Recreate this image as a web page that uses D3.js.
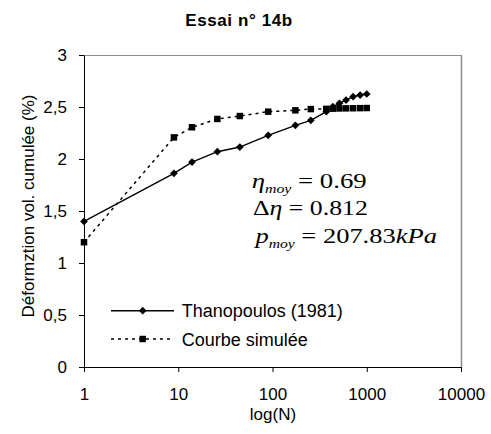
<!DOCTYPE html>
<html><head><meta charset="utf-8">
<script src="https://cdn.jsdelivr.net/npm/d3@7"></script>
<style>body{margin:0;background:#fff}svg{display:block}</style>
</head><body>
<svg id="c" width="491" height="434"></svg>
<script>
const title = "Essai n° 14b";
const yLabel = "Déformztion vol. cumulée (%)";
const xLabel = "log(N)";
const seriesNames = ["Thanopoulos (1981)", "Courbe simulée"];
const cycles = [1, 9, 14, 26, 45, 90, 175, 255, 372, 437, 513, 603, 716, 851, 1000];
const thanopoulos = [1.40, 1.862, 1.97, 2.07, 2.115, 2.228, 2.324, 2.372, 2.455, 2.503, 2.535, 2.567, 2.599, 2.615, 2.625];
const simulee = [1.20, 2.208, 2.305, 2.385, 2.413, 2.455, 2.468, 2.48, 2.482, 2.484, 2.486, 2.487, 2.488, 2.489, 2.49];
const xTicks = [1, 10, 100, 1000, 10000];
const yTicks = [0, 0.5, 1, 1.5, 2, 2.5, 3];

const svg = d3.select("#c");
const L = 84, R = 461, T = 55, B = 367;
const x = d3.scaleLog().domain([1, 10000]).range([L, R]);
const y = d3.scaleLinear().domain([0, 3]).range([B, T]);
const sans = "'Liberation Sans', Arial, sans-serif";
const serif = "'Liberation Serif', 'Times New Roman', serif";

// frame top/right
svg.append("line").attr("x1", L).attr("x2", R).attr("y1", T + 0.5).attr("y2", T + 0.5).attr("stroke", "#8c8c8c");
svg.append("line").attr("x1", R + 0.5).attr("x2", R + 0.5).attr("y1", T).attr("y2", B).attr("stroke", "#8c8c8c").attr("stroke-width", 1.5);

const fmt = d => String(d).replace(".", ",");
const gy = svg.append("g").attr("transform", `translate(${L},0)`)
  .call(d3.axisLeft(y).tickValues(yTicks).tickFormat(fmt).tickSize(5).tickSizeOuter(0).tickPadding(12));
const gx = svg.append("g").attr("transform", `translate(0,${B})`)
  .call(d3.axisBottom(x).tickValues(xTicks).tickFormat(d3.format("d")).tickSize(5).tickSizeOuter(0).tickPadding(16));
[gx, gy].forEach(g => {
  g.selectAll("path,line").attr("stroke", "#000");
  g.selectAll("text").attr("font-family", sans).attr("font-size", 17).attr("fill", "#000");
});

svg.append("text").attr("x", 239).attr("y", 26).attr("text-anchor", "middle")
  .attr("font-family", sans).attr("font-weight", "bold").attr("font-size", 17)
  .attr("letter-spacing", 0.6).text(title);
svg.append("text").attr("x", 273).attr("y", 420).attr("text-anchor", "middle")
  .attr("font-family", sans).attr("font-size", 17).text(xLabel);
svg.append("text").attr("transform", "translate(34,206) rotate(-90)").attr("text-anchor", "middle")
  .attr("font-family", sans).attr("font-size", 17).text(yLabel);

const data1 = cycles.map((n, i) => [n, thanopoulos[i]]);
const data2 = cycles.map((n, i) => [n, simulee[i]]);
const line = d3.line().x(d => x(d[0])).y(d => y(d[1]));
const diamond = d3.symbol().type(d3.symbolDiamond2).size(38);
const square = d3.symbol().type(d3.symbolSquare).size(42);

svg.append("path").datum(data2).attr("d", line).attr("fill", "none").attr("stroke", "#000")
  .attr("stroke-width", 1.5).attr("stroke-dasharray", "3,4");
svg.append("path").datum(data1).attr("d", line).attr("fill", "none").attr("stroke", "#000").attr("stroke-width", 1.4);
svg.append("g").selectAll("path").data(data2).join("path")
  .attr("transform", d => `translate(${x(d[0])},${y(d[1])})`).attr("d", square).attr("fill", "#000");
svg.append("g").selectAll("path").data(data1).join("path")
  .attr("transform", d => `translate(${x(d[0])},${y(d[1])})`).attr("d", diamond).attr("fill", "#000");

// legend
const lg = [{y: 310.7, dash: null, sym: diamond, name: seriesNames[0]},
            {y: 339, dash: "3,4", sym: square, name: seriesNames[1]}];
lg.forEach(l => {
  svg.append("line").attr("x1", 111).attr("x2", 174).attr("y1", l.y).attr("y2", l.y)
    .attr("stroke", "#000").attr("stroke-width", l.dash ? 1.5 : 1.4).attr("stroke-dasharray", l.dash);
  svg.append("path").attr("transform", `translate(142.7,${l.y})`).attr("d", l.sym).attr("fill", "#000");
  svg.append("text").attr("x", 181.7).attr("y", l.y + 6.5).attr("font-family", sans).attr("font-size", 18).text(l.name);
});

// equations
const eqs = [
  {x0: 251.7, base: 188, w: 115, parts: [["η", "italic", 0], ["moy", "italic", 1], [" = 0.69", "normal", 0]]},
  {x0: 253, base: 215, w: 115, parts: [["Δ", "normal", 0], ["η", "italic", 0], [" = 0.812", "normal", 0]]},
  {x0: 253, base: 243, w: 184, parts: [["p", "italic", 0], ["moy", "italic", 1], [" = 207.83", "normal", 0], ["kPa", "italic", 0]]}
];
eqs.forEach(e => {
  const g = svg.append("g");
  const t = g.append("text").attr("font-family", serif).attr("font-size", 22).attr("xml:space", "preserve");
  let sub = 0;
  e.parts.forEach(p => {
    const ts = t.append("tspan").attr("font-style", p[1]).text(p[0]);
    if (p[2] && !sub) { ts.attr("dy", 5).attr("font-size", 13); sub = 1; }
    else if (!p[2] && sub) { ts.attr("dy", -5); sub = 0; }
  });
  const bb = t.node().getBBox();
  const s = e.w / bb.width;
  g.attr("transform", `translate(${e.x0 - bb.x * s},${e.base}) scale(${s},1)`);
});
</script>
</body></html>
